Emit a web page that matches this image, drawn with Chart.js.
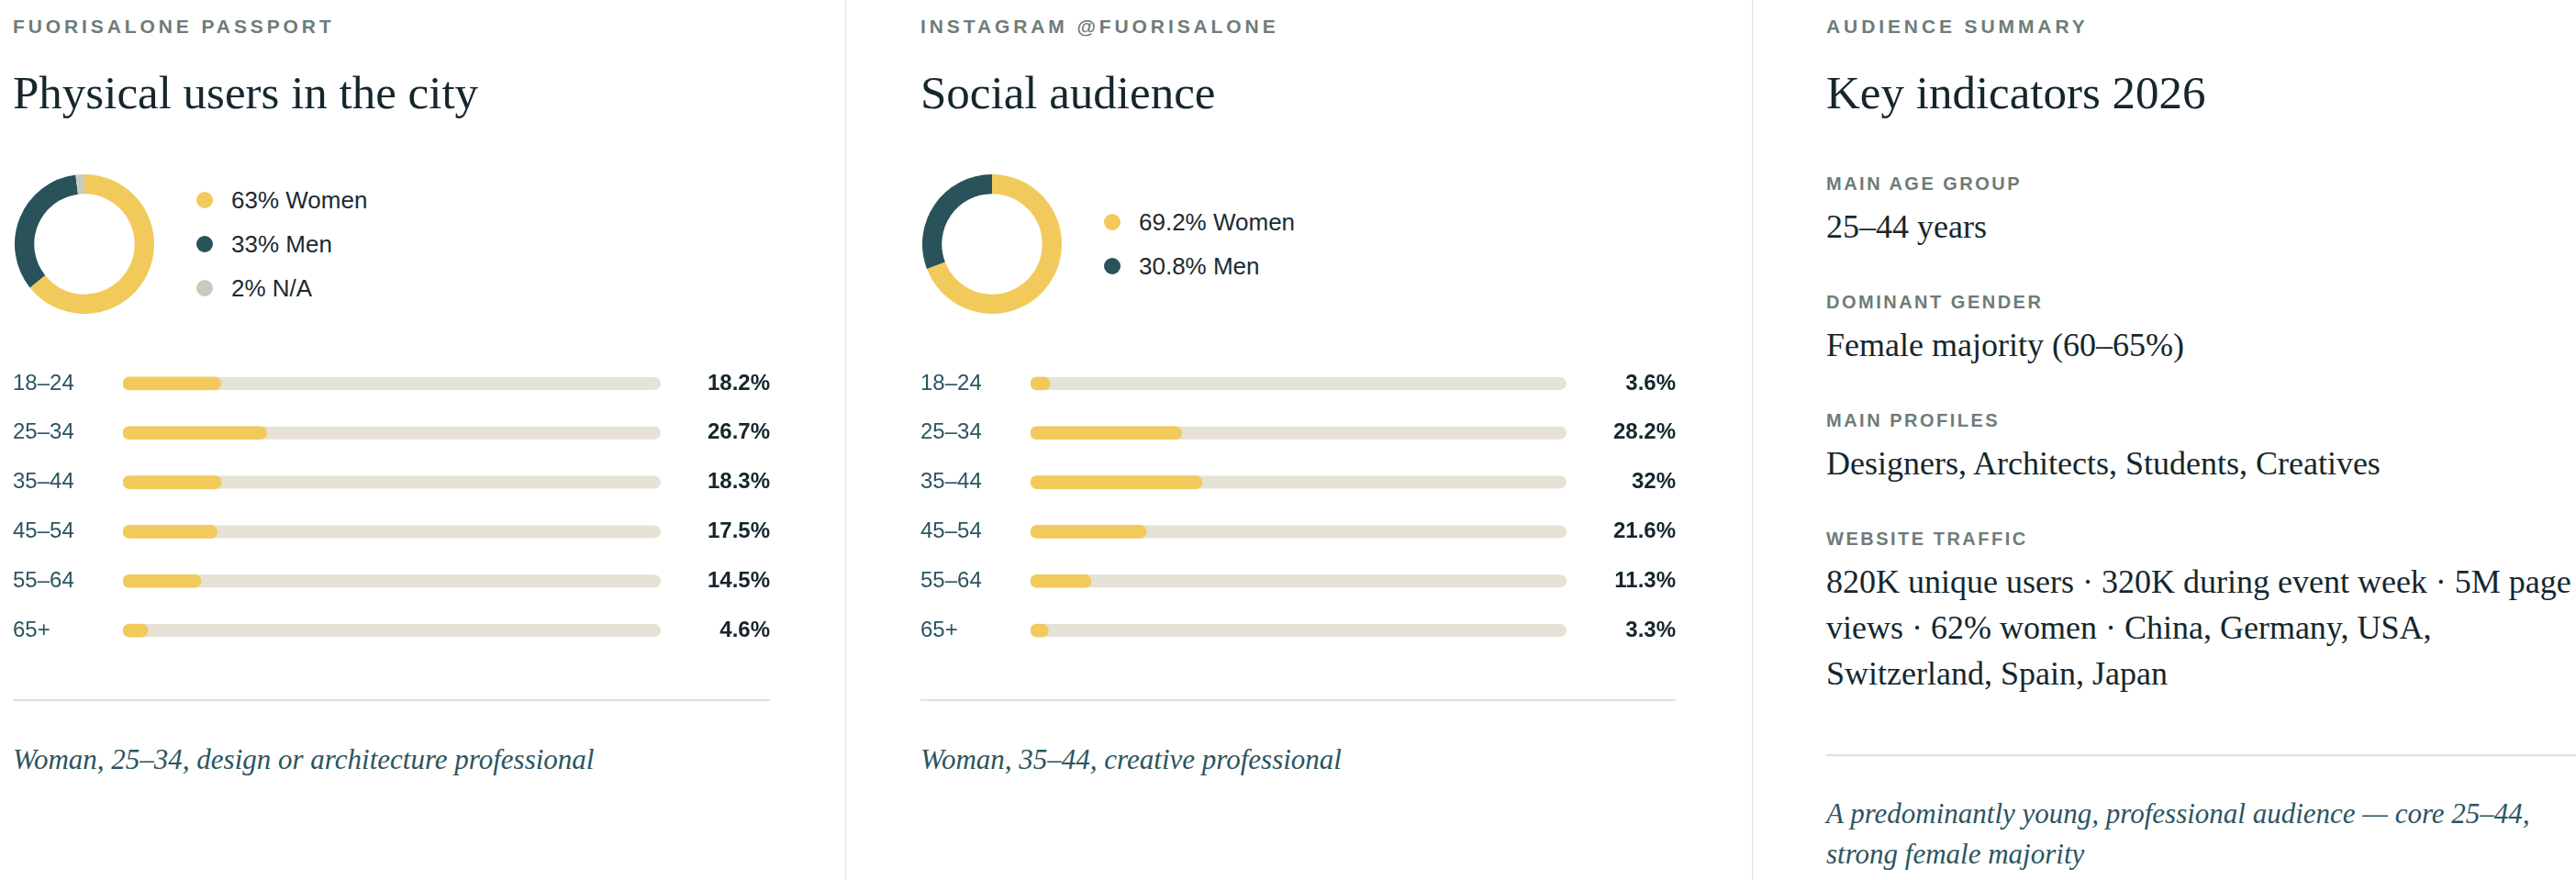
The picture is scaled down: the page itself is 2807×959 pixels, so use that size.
<!DOCTYPE html>
<html lang="en">
<head>
<meta charset="utf-8">
<title>Fuorisalone audience</title>
<script src="https://cdn.jsdelivr.net/npm/chart.js@4.4.1/dist/chart.umd.min.js"></script>
<style>
    html, body {
        margin: 0;
        padding: 0;
        background: #ffffff;
    }
    body {
        width: 2807px;
        height: 959px;
        overflow: hidden;
        position: relative;
        font-family: 'Liberation Sans', Arial, sans-serif;
    }
    .col {
        position: absolute;
        top: 0;
    }
    .col-1 { left: 14px; width: 825px; }
    .col-2 { left: 1003px; width: 823px; }
    .col-3 { left: 1990px; width: 825px; }
    .rule {
        position: absolute;
        top: 0;
        width: 1px;
        height: 959px;
        background: #e4e1d4;
    }
    .eyebrow {
        margin-top: 18px;
        font-size: 21px;
        line-height: 21px;
        font-weight: 700;
        letter-spacing: 3.9px;
        color: #6e7c77;
        white-space: nowrap;
    }
    .title {
        margin: 37px 0 0 0;
        font-family: 'Liberation Serif', 'Times New Roman', serif;
        font-weight: 400;
        font-size: 51px;
        line-height: 51px;
        color: #14272d;
        white-space: nowrap;
    }
    .donut-row {
        margin-top: 63px;
        height: 152px;
        display: flex;
        align-items: center;
    }
    .donut-row canvas {
        margin-left: 2px;
    }
    .legend {
        margin-left: 46px;
        display: flex;
        flex-direction: column;
    }
    .legend-item {
        height: 48px;
        display: flex;
        align-items: center;
        font-size: 26px;
        color: #1c2b30;
        white-space: nowrap;
    }
    .legend-dot {
        width: 18px;
        height: 18px;
        border-radius: 50%;
        margin-right: 20px;
    }
    .bars {
        display: block;
        margin-top: 49px;
    }
    .divider {
        height: 2px;
        background: #e4e1d4;
    }
    .caption {
        font-family: 'Liberation Serif', 'Times New Roman', serif;
        font-style: italic;
        font-size: 31px;
        line-height: 43.5px;
        color: #2b5560;
    }
    .col-1 .divider, .col-2 .divider { margin-top: 48px; }
    .col-1 .caption, .col-2 .caption { margin-top: 42px; }
    .kpi-label {
        font-size: 20px;
        line-height: 20px;
        font-weight: 700;
        letter-spacing: 2.5px;
        color: #6e7c77;
        white-space: nowrap;
    }
    .kpi-value {
        margin-top: 12px;
        font-family: 'Liberation Serif', 'Times New Roman', serif;
        font-size: 36px;
        line-height: 50px;
        color: #14272d;
    }
    .kpi { margin-top: 47px; }
    .kpi.first { margin-top: 63px; }
    .col-3 .divider { margin-top: 63px; }
    .col-3 .caption { margin-top: 41px; }
</style>
</head>
<body>

<div class="col col-1">
    <div class="eyebrow">FUORISALONE PASSPORT</div>
    <h2 class="title">Physical users in the city</h2>
    <div class="donut-row">
        <canvas id="cityGender" width="152" height="152"></canvas>
        <div class="legend" id="cityLegend"></div>
    </div>
    <canvas class="bars" id="cityAge" width="825" height="323"></canvas>
    <div class="divider"></div>
    <div class="caption">Woman, 25–34, design or architecture professional</div>
</div>

<div class="rule" style="left: 921px;"></div>

<div class="col col-2">
    <div class="eyebrow">INSTAGRAM @FUORISALONE</div>
    <h2 class="title">Social audience</h2>
    <div class="donut-row">
        <canvas id="socialGender" width="152" height="152"></canvas>
        <div class="legend" id="socialLegend"></div>
    </div>
    <canvas class="bars" id="socialAge" width="823" height="323"></canvas>
    <div class="divider"></div>
    <div class="caption">Woman, 35–44, creative professional</div>
</div>

<div class="rule" style="left: 1909px;"></div>

<div class="col col-3">
    <div class="eyebrow">AUDIENCE SUMMARY</div>
    <h2 class="title">Key indicators 2026</h2>
    <div class="kpi first">
        <div class="kpi-label">MAIN AGE GROUP</div>
        <div class="kpi-value">25–44 years</div>
    </div>
    <div class="kpi">
        <div class="kpi-label">DOMINANT GENDER</div>
        <div class="kpi-value">Female majority (60–65%)</div>
    </div>
    <div class="kpi">
        <div class="kpi-label">MAIN PROFILES</div>
        <div class="kpi-value">Designers, Architects, Students, Creatives</div>
    </div>
    <div class="kpi">
        <div class="kpi-label">WEBSITE TRAFFIC</div>
        <div class="kpi-value">820K unique users · 320K during event week · 5M page views · 62% women · China, Germany, USA, Switzerland, Spain, Japan</div>
    </div>
    <div class="divider"></div>
    <div class="caption">A predominantly young, professional audience — core 25–44, strong female majority</div>
</div>

<script>
// Dati: fasce d'età e quote percentuali
const AGE_GROUPS = ['18–24', '25–34', '35–44', '45–54', '55–64', '65+'];
const CITY_AGE_SHARE = [18.2, 26.7, 18.3, 17.5, 14.5, 4.6];
const SOCIAL_AGE_SHARE = [3.6, 28.2, 32, 21.6, 11.3, 3.3];

const CITY_GENDER_LABELS = ['Women', 'Men', 'N/A'];
const CITY_GENDER_SHARE = [63, 33, 2];
const SOCIAL_GENDER_LABELS = ['Women', 'Men'];
const SOCIAL_GENDER_SHARE = [69.2, 30.8];

const SHARE_MAX = 100;

const COLORS = {
    yellow: '#f2ca5b',
    teal: '#29525a',
    gray: '#c9cabd',
    track: '#e6e2d5',
    label: '#2b5560',
    value: '#14272d'
};
const GENDER_COLORS = [COLORS.yellow, COLORS.teal, COLORS.gray];

const SANS = "'Liberation Sans', Arial, sans-serif";

Chart.defaults.font.family = SANS;

/**
 * Disegna la traccia grigia dietro ogni barra, dalla scala 0 al massimo
 */
const trackPlugin = {
    id: 'track',
    beforeDatasetsDraw(chart) {
        const ctx = chart.ctx;
        const xScale = chart.scales.x;
        const meta = chart.getDatasetMeta(0);
        const x0 = xScale.getPixelForValue(0);
        const x1 = xScale.getPixelForValue(SHARE_MAX);
        ctx.save();
        ctx.fillStyle = COLORS.track;
        meta.data.forEach(bar => {
            const h = bar.height;
            ctx.beginPath();
            ctx.roundRect(x0, bar.y - h / 2, x1 - x0, h, h / 2);
            ctx.fill();
        });
        ctx.restore();
    }
};

/**
 * Valori percentuali allineati a destra
 */
const valuePlugin = {
    id: 'values',
    afterDatasetsDraw(chart) {
        const ctx = chart.ctx;
        const ds = chart.data.datasets[0];
        const meta = chart.getDatasetMeta(0);
        ctx.save();
        ctx.font = `bold 24px ${SANS}`;
        ctx.fillStyle = COLORS.value;
        ctx.textAlign = 'right';
        ctx.textBaseline = 'middle';
        meta.data.forEach((bar, i) => {
            ctx.fillText(ds.data[i] + '%', chart.width, bar.y);
        });
        ctx.restore();
    }
};

function initAgeChart(canvasId, values) {
    return new Chart(document.getElementById(canvasId), {
        type: 'bar',
        data: {
            labels: AGE_GROUPS,
            datasets: [{
                data: values,
                backgroundColor: COLORS.yellow,
                barThickness: 14,
                borderRadius: 7,
                borderSkipped: false
            }]
        },
        options: {
            indexAxis: 'y',
            responsive: false,
            animation: false,
            events: [],
            layout: { padding: { left: 0, right: 119, top: 0, bottom: 0 } },
            scales: {
                x: {
                    display: false,
                    min: 0,
                    max: SHARE_MAX
                },
                y: {
                    grid: { display: false, drawTicks: false },
                    border: { display: false },
                    afterFit(scale) {
                        scale.width = 120;
                        // niente margine extra per le etichette estreme
                        scale.paddingTop = 0;
                        scale.paddingBottom = 0;
                    },
                    ticks: {
                        crossAlign: 'far',
                        padding: 0,
                        color: COLORS.label,
                        font: { size: 24, family: SANS }
                    }
                }
            },
            plugins: {
                legend: { display: false },
                tooltip: { enabled: false }
            }
        },
        plugins: [trackPlugin, valuePlugin]
    });
}

function initGenderChart(canvasId, legendId, labels, values) {
    const colors = GENDER_COLORS.slice(0, values.length);
    const chart = new Chart(document.getElementById(canvasId), {
        type: 'doughnut',
        data: {
            labels: labels,
            datasets: [{
                data: values,
                backgroundColor: colors,
                borderWidth: 0,
                hoverOffset: 0,
                offset: 0
            }]
        },
        options: {
            responsive: false,
            animation: false,
            events: [],
            cutout: '72%',
            plugins: {
                legend: { display: false },
                tooltip: { enabled: false }
            }
        }
    });

    // legenda HTML costruita dagli stessi dati
    const legend = document.getElementById(legendId);
    labels.forEach((label, i) => {
        const item = document.createElement('div');
        item.className = 'legend-item';
        const dot = document.createElement('span');
        dot.className = 'legend-dot';
        dot.style.background = colors[i];
        item.appendChild(dot);
        item.appendChild(document.createTextNode(values[i] + '% ' + label));
        legend.appendChild(item);
    });
    return chart;
}

initGenderChart('cityGender', 'cityLegend', CITY_GENDER_LABELS, CITY_GENDER_SHARE);
initGenderChart('socialGender', 'socialLegend', SOCIAL_GENDER_LABELS, SOCIAL_GENDER_SHARE);
initAgeChart('cityAge', CITY_AGE_SHARE);
initAgeChart('socialAge', SOCIAL_AGE_SHARE);
</script>
</body>
</html>
